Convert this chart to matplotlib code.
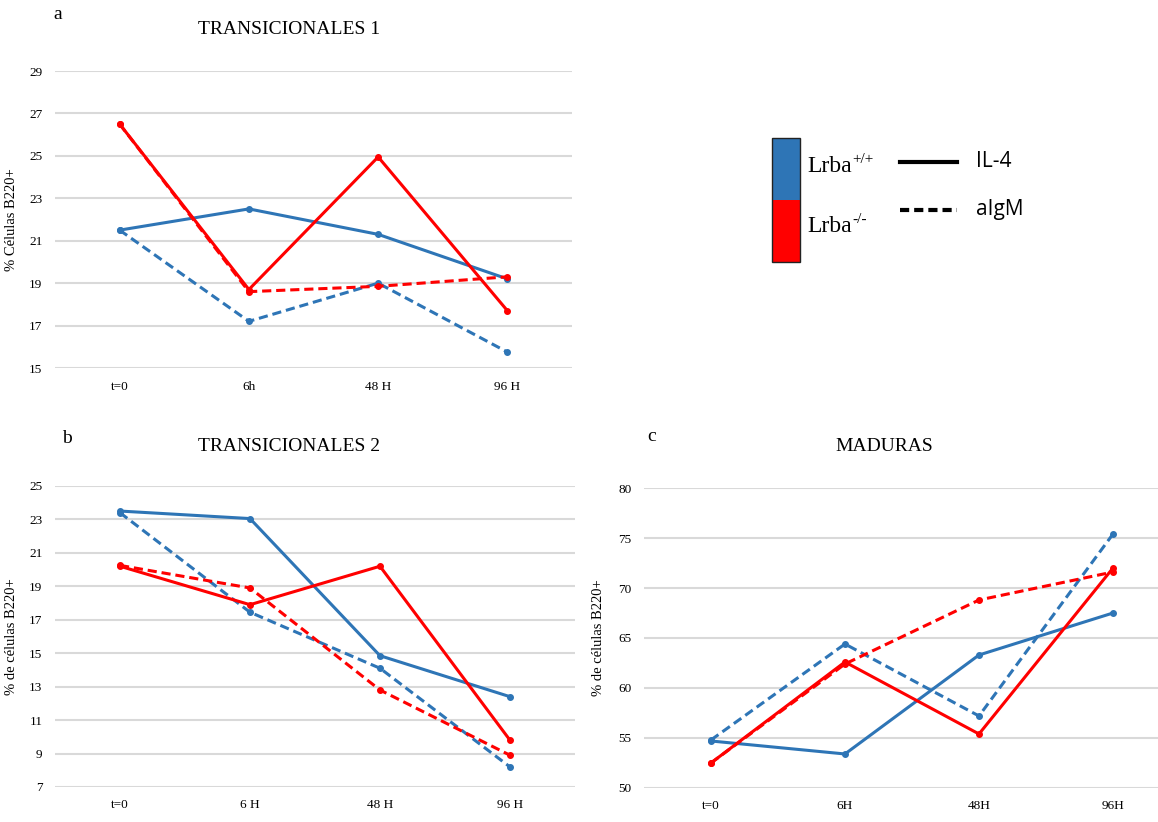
import matplotlib
matplotlib.use("Agg")
import matplotlib.pyplot as plt
from matplotlib.patches import Rectangle
from matplotlib.lines import Line2D
from matplotlib.text import Annotation

# data
times_a = ["t=0", "6h", "48 H", "96 H"]
times_b = ["t=0", "6 H", "48 H", "96 H"]
times_c = ["t=0", "6H", "48H", "96H"]

# a: TRANSICIONALES 1
a_wt_il4 = [21.5, 22.5, 21.3, 19.2]
a_wt_aigm = [21.5, 17.2, 19.0, 15.75]
a_ko_il4 = [26.5, 18.7, 24.95, 17.7]
a_ko_aigm = [26.5, 18.6, 18.85, 19.3]

# b: TRANSICIONALES 2
b_wt_il4 = [23.5, 23.05, 14.85, 12.4]
b_wt_aigm = [23.4, 17.45, 14.1, 8.2]
b_ko_il4 = [20.2, 17.9, 20.2, 9.8]
b_ko_aigm = [20.25, 18.9, 12.8, 8.9]

# c: MADURAS
c_wt_il4 = [54.7, 53.4, 63.3, 67.5]
c_wt_aigm = [54.8, 64.4, 57.2, 75.4]
c_ko_il4 = [52.5, 62.6, 55.4, 72.0]
c_ko_aigm = [52.5, 62.4, 68.8, 71.6]

blue = "#2E75B6"
red = "#FF0000"
serif = "Liberation Serif"

fig = plt.figure(figsize=(11.58, 8.22), dpi=100)


def panel(rect, labels, series, yticks, ylabel):
    ax = fig.add_axes(rect)
    x = list(range(len(labels)))
    for vals, color, style in series:
        ax.plot(x, vals, color=color, linestyle=style, lw=2.2,
                marker="o", markersize=4, dashes=(3, 1.6) if style == "--" else (None, None))
    ax.set_xlim(-0.5, len(labels) - 0.5)
    ax.set_ylim(yticks[0], yticks[-1])
    ax.set_yticks(yticks)
    ax.set_xticks(x)
    ax.set_xticklabels(labels, fontfamily=serif, fontsize=9.5)
    for t in ax.get_yticklabels():
        t.set_fontfamily(serif)
        t.set_fontsize(9.5)
    ax.tick_params(length=0, pad=9)
    ax.grid(axis="y", color="#D9D9D9", lw=1.5)
    ax.set_axisbelow(True)
    for s in ax.spines.values():
        s.set_visible(False)
    ax.set_ylabel(ylabel, fontfamily=serif, fontsize=10.5)
    ax.yaxis.set_label_coords(-0.072, 0.5)
    return ax


panel([0.0475, 0.5523, 0.4465, 0.3613], times_a,
      [(a_wt_il4, blue, "-"), (a_wt_aigm, blue, "--"),
       (a_ko_aigm, red, "--"), (a_ko_il4, red, "-")],
      list(range(15, 30, 2)), "% Células B220+")

panel([0.0475, 0.0426, 0.449, 0.3662], times_b,
      [(b_wt_il4, blue, "-"), (b_wt_aigm, blue, "--"),
       (b_ko_il4, red, "-"), (b_ko_aigm, red, "--")],
      list(range(7, 26, 2)), "% de células B220+")

panel([0.5561, 0.0414, 0.4629, 0.3649], times_c,
      [(c_wt_il4, blue, "-"), (c_wt_aigm, blue, "--"),
       (c_ko_il4, red, "-"), (c_ko_aigm, red, "--")],
      list(range(50, 81, 5)), "% de células B220+")

# titles and panel letters
fig.text(0.250, 0.964, "TRANSICIONALES 1", ha="center", va="center",
         fontfamily=serif, fontsize=14)
fig.text(0.250, 0.457, "TRANSICIONALES 2", ha="center", va="center",
         fontfamily=serif, fontsize=14)
fig.text(0.764, 0.457, "MADURAS", ha="center", va="center",
         fontfamily=serif, fontsize=14)
fig.text(0.050, 0.982, "a", ha="center", va="center", fontfamily=serif, fontsize=14)
fig.text(0.058, 0.466, "b", ha="center", va="center", fontfamily=serif, fontsize=14)
fig.text(0.563, 0.469, "c", ha="center", va="center", fontfamily=serif, fontsize=14)

# legend
fig.add_artist(Rectangle((0.6667, 0.7567), 0.0241, 0.0754, transform=fig.transFigure,
                         facecolor=blue, edgecolor="none"))
fig.add_artist(Rectangle((0.6667, 0.6813), 0.0241, 0.0754, transform=fig.transFigure,
                         facecolor=red, edgecolor="none"))
fig.add_artist(Rectangle((0.6667, 0.6813), 0.0241, 0.1508, transform=fig.transFigure,
                         facecolor="none", edgecolor="#222222", lw=1))
for label, sup, ypos in [("Lrba", "+/+", 0.797), ("Lrba", "-/-", 0.724)]:
    t = fig.text(0.6975, ypos, label, ha="left", va="center", fontfamily=serif, fontsize=17)
    fig.add_artist(Annotation(sup, xy=(1.0, 0.55), xycoords=t, ha="left", va="bottom",
                              fontfamily=serif, fontsize=11))
fig.add_artist(Line2D([0.777, 0.826], [0.803, 0.803], transform=fig.transFigure,
                      color="black", lw=3))
fig.add_artist(Line2D([0.777, 0.826], [0.745, 0.745], transform=fig.transFigure,
                      color="black", lw=3, linestyle=(0, (2.2, 1.2))))
fig.text(0.843, 0.803, "IL-4", ha="left", va="center", fontfamily="Open Sans", fontsize=15)
fig.text(0.843, 0.745, "aIgM", ha="left", va="center", fontfamily="Open Sans", fontsize=15)

plt.savefig("out.png", dpi=100)
